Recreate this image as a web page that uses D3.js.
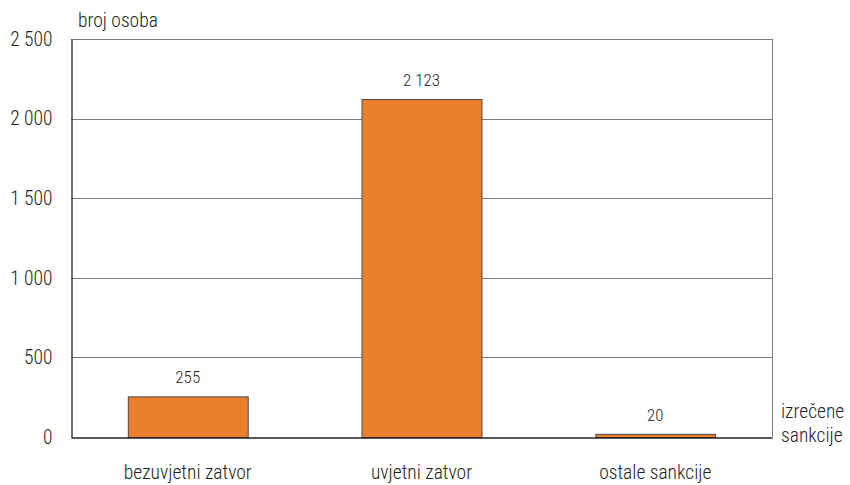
<!DOCTYPE html>
<html>
<head>
<meta charset="utf-8">
<script src="https://cdn.jsdelivr.net/npm/d3@7"></script>
<style>
  html, body { margin: 0; padding: 0; background: #fff; }
  svg text { font-family: "Roboto Condensed", "Liberation Sans", Arial, sans-serif; font-weight: 300; fill: #231f20; }
</style>
</head>
<body>
<svg id="chart" width="850" height="485"></svg>
<script>
// Izrečene sankcije – broj osoba
const categories = ["bezuvjetni zatvor", "uvjetni zatvor", "ostale sankcije"];
const values = [255, 2123, 20];
const yTicks = [0, 500, 1000, 1500, 2000, 2500];
const yTickLabels = ["0", "500", "1 000", "1 500", "2 000", "2 500"];

const svg = d3.select("#chart");
const plot = { left: 71, right: 772, top: 39, bottom: 437 };
const FONT = "Roboto Condensed, Liberation Sans, Arial, sans-serif";

const x = d3.scaleBand().domain(categories).range([plot.left, plot.right]).paddingInner(0.487).paddingOuter(0.243);
const y = d3.scaleLinear().domain([0, 2500]).range([plot.bottom, plot.top]);

// horizontal gridlines
svg.append("g").selectAll("line").data(yTicks.filter(d => d > 0)).join("line")
  .attr("x1", plot.left).attr("x2", plot.right)
  .attr("y1", d => Math.round(y(d)) + 0.5).attr("y2", d => Math.round(y(d)) + 0.5)
  .attr("stroke", "#7a7a7a").attr("stroke-width", 1);

// right frame edge
svg.append("line")
  .attr("x1", plot.right + 0.5).attr("x2", plot.right + 0.5)
  .attr("y1", y(2500)).attr("y2", plot.bottom)
  .attr("stroke", "#7a7a7a").attr("stroke-width", 1);

// bars
svg.append("g").selectAll("rect").data(values).join("rect")
  .attr("x", (d, i) => x(categories[i]) + 0.5)
  .attr("width", x.bandwidth())
  .attr("y", d => y(d) + 0.5)
  .attr("height", d => plot.bottom - y(d))
  .attr("fill", "#ec7f2b")
  .attr("stroke", "#4a4a4a").attr("stroke-width", 1);

// value labels
const fmt = v => d3.format(",")(v).replace(/,/g, " ");
svg.append("g").selectAll("text").data(values).join("text")
  .attr("x", (d, i) => x(categories[i]) + x.bandwidth() / 2)
  .attr("y", d => y(d) - 13)
  .attr("text-anchor", "middle")
  .attr("font-size", 17)
  .text(d => fmt(d));

// y axis
const yAxis = d3.axisLeft(y).tickValues(yTicks).tickSize(0).tickPadding(19)
  .tickFormat((d, i) => yTickLabels[i]);
const gy = svg.append("g").attr("transform", `translate(${plot.left + 0.5},0)`).call(yAxis);
gy.select(".domain").attr("stroke", "#231f20").attr("stroke-width", 1.3);
gy.selectAll("text").attr("font-size", 19.5).attr("font-family", FONT).attr("font-weight", 300).attr("fill", "#231f20");

// x axis
const xAxis = d3.axisBottom(x).tickSize(0).tickPadding(28);
const gx = svg.append("g").attr("transform", `translate(0,${plot.bottom + 0.5})`).call(xAxis);
gx.select(".domain").attr("stroke", "#231f20").attr("stroke-width", 1.3);
gx.selectAll("text").attr("font-size", 19.5).attr("font-family", FONT).attr("font-weight", 300).attr("fill", "#231f20");

// axis titles
svg.append("text").attr("x", 78).attr("y", 27).attr("font-size", 19.5).text("broj osoba");
svg.append("text").attr("x", 781).attr("y", 418).attr("font-size", 19.5).text("izrečene");
svg.append("text").attr("x", 781).attr("y", 442).attr("font-size", 19.5).text("sankcije");
</script>
</body>
</html>
